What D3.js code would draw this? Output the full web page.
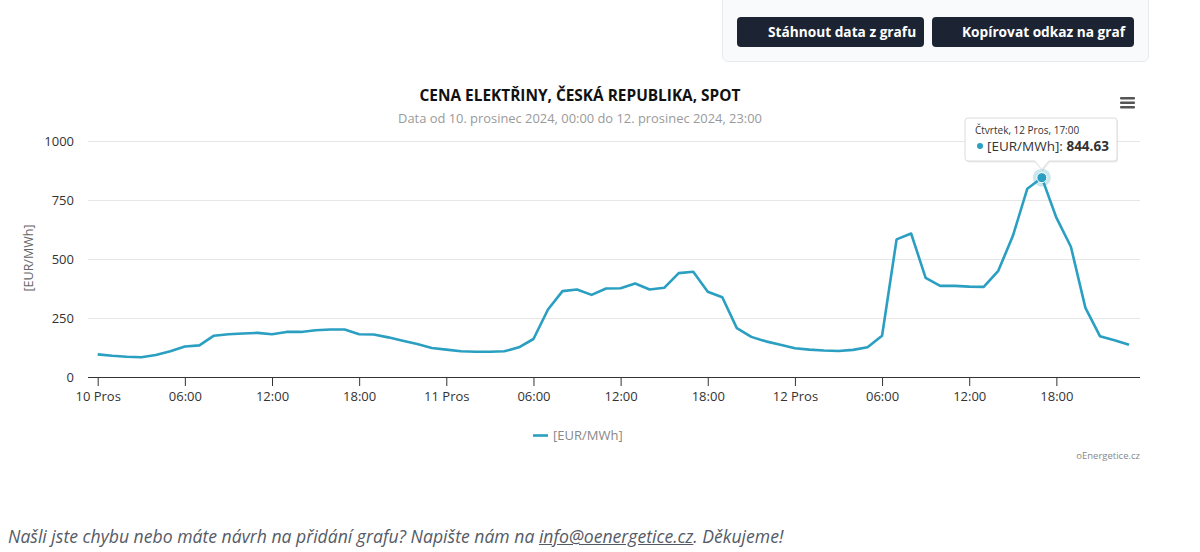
<!DOCTYPE html>
<html>
<head>
<meta charset="utf-8">
<script src="https://cdn.jsdelivr.net/npm/d3@7"></script>
<style>
	body { margin: 0; width: 1200px; height: 552px; background: #fff; font-family: 'Open Sans', sans-serif; overflow: hidden; position: relative; }
	#panel { position: absolute; left: 722px; top: -6px; width: 427px; height: 68px; background: #f8fafc; border: 1px solid #e7ebf0; border-radius: 6px; box-sizing: border-box; }
	.btn { position: absolute; top: 22px; height: 30px; background: #1c2434; color: #fff; border-radius: 4px; font-weight: 700; font-size: 13.7px; line-height: 30px; box-sizing: border-box; white-space: nowrap; }
	#footer { position: absolute; left: 8px; top: 524px; font-style: italic; font-size: 17.6px; color: #555b66; white-space: nowrap; }
	#footer u { color: #555b66; }
	#chart { position: absolute; left: 0; top: 0; }
</style>
</head>
<body>
<div id="chart"></div>
<div id="panel">
	<div class="btn" style="left:14px;width:187px;padding-left:31px;">Stáhnout data z grafu</div>
	<div class="btn" style="left:209px;width:202px;padding-left:30px;">Kopírovat odkaz na graf</div>
</div>
<div id="footer">Našli jste chybu nebo máte návrh na přidání grafu? Napište nám na <u>info@oenergetice.cz</u>. Děkujeme!</div>
<script>
// hodinove ceny, 10.-12. 12. 2024
let day1	= [96, 90, 86, 84, 93, 109, 129, 134, 175, 181, 184, 187, 181, 191, 191, 198, 201, 201, 181, 180, 168, 154, 140, 123];
let day2	= [116, 109, 107, 107, 109, 126, 161, 286, 364, 371, 348, 375, 376, 396, 371, 378, 440, 446, 361, 338, 207, 170, 151, 137];
let day3	= [122, 116, 112, 110, 115, 126, 175, 583, 608, 420, 386, 386, 383, 382, 450, 597, 798, 844.63, 675, 552, 293, 173, 156, 137];

let tickLabels	= ['10 Pros', '06:00', '12:00', '18:00', '11 Pros', '06:00', '12:00', '18:00', '12 Pros', '06:00', '12:00', '18:00'];
let yTicks		= [0, 250, 500, 750, 1000];
let dayNames	= ['10 Pros', '11 Pros', '12 Pros'];

let hoverIdx	= 65;
let lineColor	= '#2a9fc1';

let values	= day1.concat(day2, day3);
let start	= new Date(2024, 11, 10, 0, 0);
let data	= values.map((v, i) => ({ t: d3.timeHour.offset(start, i), v: v }));

let svg = d3.select('#chart').append('svg')
	.attr('width', 1200)
	.attr('height', 552)
	.style('font-family', "'Open Sans', sans-serif");

let plotLeft	= 88;
let plotRight	= 1140;

let x = d3.scaleTime()
	.domain([start, d3.timeHour.offset(start, 71)])
	.range([97.7, 1129]);

let y = d3.scaleLinear()
	.domain([0, 1000])
	.range([377, 141]);

// titulky
svg.append('text')
	.attr('x', 580).attr('y', 101)
	.attr('text-anchor', 'middle')
	.style('font-size', '15.4px').style('font-weight', 700).style('fill', '#111')
	.text('CENA ELEKTŘINY, ČESKÁ REPUBLIKA, SPOT');

svg.append('text')
	.attr('x', 580).attr('y', 123)
	.attr('text-anchor', 'middle')
	.style('font-size', '12.9px').style('fill', '#9a9a9a')
	.text('Data od 10. prosinec 2024, 00:00 do 12. prosinec 2024, 23:00');

// menu
svg.append('g').selectAll('rect').data([0, 1, 2]).enter().append('rect')
	.attr('x', 1120).attr('y', d => 97 + d * 4.5)
	.attr('width', 15).attr('height', 2.4)
	.attr('rx', 1)
	.style('fill', '#555');

// mrizka
svg.append('g').selectAll('line').data(yTicks.slice(1)).enter().append('line')
	.attr('x1', plotLeft).attr('x2', plotRight)
	.attr('y1', d => y(d) + .5).attr('y2', d => y(d) + .5)
	.style('stroke', '#e6e6e6');

let yAxis = svg.append('g')
	.attr('transform', 'translate(74,0)')
	.call(d3.axisLeft(y).tickValues(yTicks).tickSize(0).tickPadding(0).tickFormat(d3.format('d')));
yAxis.select('.domain').remove();
yAxis.selectAll('text').style('font-size', '13px').style('fill', '#333').style('font-family', "'Open Sans', sans-serif");

let tickDates	= d3.range(0, 72, 6).map(h => d3.timeHour.offset(start, h));
let xAxis = svg.append('g')
	.attr('transform', 'translate(0,377)')
	.call(d3.axisBottom(x).tickValues(tickDates).tickSize(9).tickPadding(6).tickFormat((d, i) => tickLabels[i]));
xAxis.select('.domain').attr('d', 'M' + plotLeft + ',0.5H' + plotRight).style('stroke', '#333');
xAxis.selectAll('.tick line').style('stroke', '#333');
xAxis.selectAll('text').style('font-size', '13px').style('fill', '#333').style('font-family', "'Open Sans', sans-serif");

svg.append('text')
	.attr('transform', 'translate(33,258) rotate(-90)')
	.attr('text-anchor', 'middle')
	.style('font-size', '12.5px').style('fill', '#666')
	.text('[EUR/MWh]');

let line = d3.line()
	.x(d => x(d.t))
	.y(d => y(d.v));

svg.append('path')
	.datum(data)
	.attr('d', line)
	.style('fill', 'none')
	.style('stroke', lineColor)
	.style('stroke-width', 2.6)
	.style('stroke-linejoin', 'round');

// legenda
svg.append('line')
	.attr('x1', 533).attr('x2', 548).attr('y1', 435.5).attr('y2', 435.5)
	.style('stroke', lineColor).style('stroke-width', 2.6);
svg.append('text')
	.attr('x', 553).attr('y', 440)
	.style('font-size', '13px').style('fill', '#888')
	.text('[EUR/MWh]');

svg.append('text')
	.attr('x', 1140).attr('y', 459)
	.attr('text-anchor', 'end')
	.style('font-size', '9.5px').style('fill', '#888')
	.text('oEnergetice.cz');

// tooltip
let hp	= data[hoverIdx];
let hx	= x(hp.t), hy = y(hp.v);

svg.append('circle')
	.attr('cx', hx).attr('cy', hy).attr('r', 9)
	.style('fill', lineColor).style('opacity', .25);
svg.append('circle')
	.attr('cx', hx).attr('cy', hy).attr('r', 5)
	.style('fill', lineColor).style('stroke', '#fff').style('stroke-width', 1);

let tip		= svg.append('g');
let bx0 = 965, bx1 = 1117, by0 = 118, by1 = 161;
let tipPath	= 'M' + (bx0 + 3) + ',' + by0 + 'H' + (bx1 - 3) + 'Q' + bx1 + ',' + by0 + ' ' + bx1 + ',' + (by0 + 3)
	+ 'V' + (by1 - 3) + 'Q' + bx1 + ',' + by1 + ' ' + (bx1 - 3) + ',' + by1
	+ 'H' + (hx + 7) + 'L' + hx + ',' + (hy - 8) + 'L' + (hx - 7) + ',' + by1
	+ 'H' + (bx0 + 3) + 'Q' + bx0 + ',' + by1 + ' ' + bx0 + ',' + (by1 - 3)
	+ 'V' + (by0 + 3) + 'Q' + bx0 + ',' + by0 + ' ' + (bx0 + 3) + ',' + by0 + 'Z';

tip.append('path')
	.attr('d', tipPath)
	.attr('transform', 'translate(1,1.5)')
	.style('fill', 'rgba(0,0,0,0.08)');
tip.append('path')
	.attr('d', tipPath)
	.style('fill', '#fff')
	.style('stroke', '#dcdcdc')
	.style('stroke-width', 1);

tip.append('text')
	.attr('x', bx0 + 10).attr('y', by0 + 16)
	.style('font-size', '10px').style('fill', '#333')
	.text('Čtvrtek, ' + dayNames[Math.floor(hoverIdx / 24)] + ', ' + d3.timeFormat('%H:%M')(hp.t));

tip.append('circle')
	.attr('cx', bx0 + 15).attr('cy', by0 + 28).attr('r', 3)
	.style('fill', lineColor);

let t2 = tip.append('text')
	.attr('x', bx0 + 22).attr('y', by0 + 32.5)
	.style('font-size', '13.5px').style('fill', '#333');
t2.append('tspan').text('[EUR/MWh]: ');
t2.append('tspan').style('font-weight', 700).text(d3.format('.2f')(hp.v));
</script>
</body>
</html>
